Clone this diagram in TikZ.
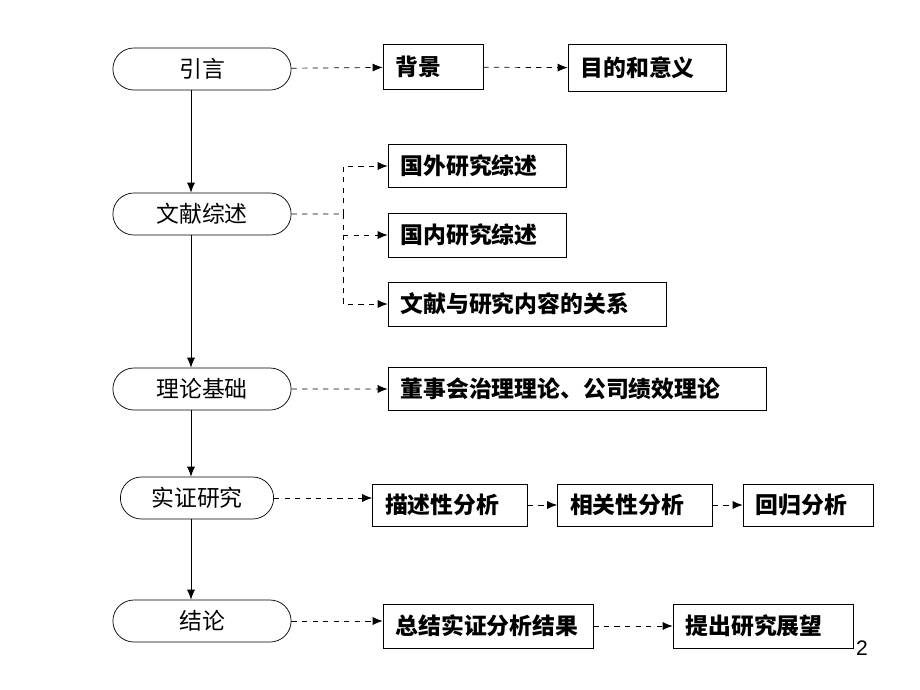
\documentclass[tikz,border=0pt]{standalone}
\usepackage{fontspec}
\newfontfamily\cjk{Noto Sans CJK SC}
\setmainfont{Liberation Sans}
\usetikzlibrary{arrows.meta,shapes.misc}

\begin{document}
\begin{tikzpicture}[
    x=0.02cm, y=-0.02cm,
    phase/.style={
        draw, rounded rectangle, minimum width=3.8cm, minimum height=0.84cm,
        font=\cjk\fontsize{13}{15}\selectfont
    },
    item/.style={
        draw, minimum height=0.88cm, inner xsep=0.25cm, align=left,
        text width=#1, font=\cjk\bfseries\fontsize{13}{15}\selectfont
    },
    main/.style={-{Latex[length=2mm,width=1.6mm]}},
    side/.style={dashed, -{Latex[length=2mm,width=1.6mm]}}
]
    \useasboundingbox (0,0) rectangle (920,690);

    % main column
    \node[phase] (intro) at (202,69) {引言};
    \node[phase] (review) at (202,214) {文献综述};
    \node[phase] (theory) at (202,389) {理论基础};
    \node[phase, minimum width=3.3cm] (empirical) at (197,498) {实证研究};
    \node[phase] (concl) at (202,621) {结论};

    % side boxes
    \node[item=1.5cm, minimum height=0.9cm] (bg) at (433,67) {背景};
    \node[item=2.66cm, minimum height=0.94cm] (aim) at (647,68) {目的和意义};
    \node[item=3.06cm, minimum height=0.86cm] (abroad) at (477,166) {国外研究综述};
    \node[item=3.06cm] (home) at (477,235) {国内研究综述};
    \node[item=5.06cm] (rel) at (527,304) {文献与研究内容的关系};
    \node[item=7.06cm, minimum height=0.86cm] (gov) at (577,389) {董事会治理理论、公司绩效理论};
    \node[item=2.6cm, minimum height=0.84cm] (desc) at (450,505) {描述性分析};
    \node[item=2.6cm, minimum height=0.84cm] (corr) at (635,505) {相关性分析};
    \node[item=2.1cm, minimum height=0.84cm] (regr) at (808,505) {回归分析};
    \node[item=3.7cm] (sum) at (488,626) {总结实证分析结果};
    \node[item=3.1cm] (outlook) at (763,626) {提出研究展望};

    \node[font=\fontsize{12}{14}\selectfont] (page) at (862,648) {2};

    \coordinate (fork) at (343,214);

    \draw[main] (intro.south -| 191,0) -- (review.north -| 191,0);
    \draw[main] (review.south -| 191,0) -- (theory.north -| 191,0);
    \draw[main] (theory.south -| 191,0) -- (empirical.north -| 191,0);
    \draw[main] (empirical.south -| 191,0) -- (concl.north -| 191,0);

    \draw[side] (intro) -- (bg);
    \draw[side] (bg) -- (aim);
    \draw[dashed] (review) -- (fork);
    \draw[side] (fork) |- (abroad);
    \draw[side] (fork) |- (home);
    \draw[side] (fork) |- (rel);
    \draw[side] (theory) -- (gov);
    \draw[side] (empirical.east) -- (desc.west |- empirical.east);
    \draw[side] (desc) -- (corr);
    \draw[side] (corr) -- (regr);
    \draw[side] (concl.east) -- (sum.west |- concl.east);
    \draw[side] (sum) -- (outlook);
\end{tikzpicture}
\end{document}
